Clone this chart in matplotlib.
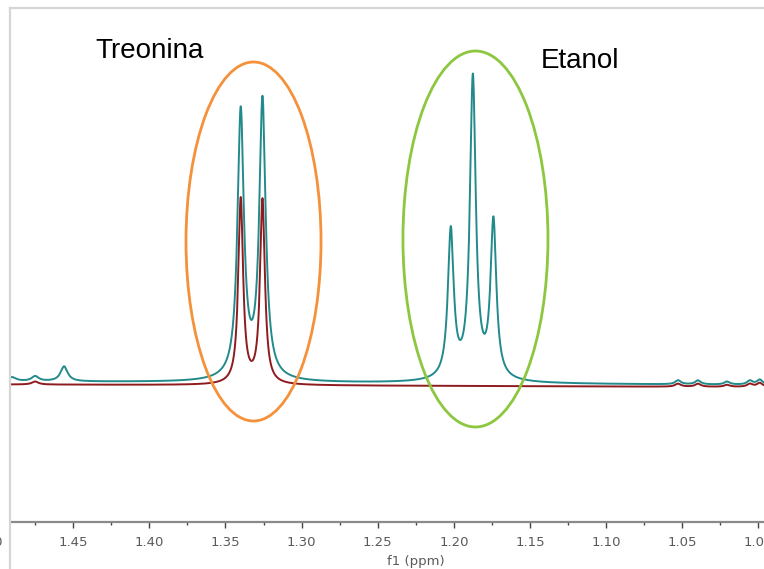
import numpy as np
import matplotlib
matplotlib.use("Agg")
import matplotlib.pyplot as plt
from matplotlib.patches import Ellipse
from matplotlib.lines import Line2D

# ---------------- data ----------------
# peak tables: chemical shift (ppm), height (intensity units), half width (ppm)
teal_centers = [1.4900, 1.4750, 1.4560, 1.3400, 1.3257, 1.3330, 1.2020, 1.1875, 1.1740,
                1.1880, 1.0527, 1.0396, 1.0205, 1.0055, 0.9990]
teal_heights = [4, 5, 15, 265, 276, 3.5, 147, 299, 156, 3, 4, 4, 3, 4, 5]
teal_widths = [0.0030, 0.0028, 0.0028, 0.00250, 0.00250, 0.0150, 0.0023, 0.0023, 0.0023,
               0.0180, 0.0022, 0.0022, 0.0022, 0.0022, 0.0022]
teal_baseline = [140.5, 137.0]   # intensity at left / right edge

red_centers = [1.4750, 1.3400, 1.3257, 1.0527, 1.0396, 1.0205, 1.0055, 0.9990]
red_heights = [3, 185, 184, 3, 3, 2, 3, 4]
red_widths = [0.0026, 0.0019, 0.0019, 0.0022, 0.0022, 0.0022, 0.0022, 0.0022]
red_baseline = [137.5, 135.0]

major_ticks = [1.45, 1.40, 1.35, 1.30, 1.25, 1.20, 1.15, 1.10, 1.05, 1.00]
tick_labels = ["1.45", "1.40", "1.35", "1.30", "1.25", "1.20", "1.15", "1.10", "1.05", "1.00"]
x_label = "f1 (ppm)"
label_treonina = "Treonina"
label_etanol = "Etanol"

# ---------------- figure ----------------
W, H = 764, 569
fig = plt.figure(figsize=(W / 100, H / 100), dpi=100)
fig.patch.set_facecolor("white")

ax_left_px, ax_bottom_px, ax_top_px = 10.7, 522, 8
ax = fig.add_axes([ax_left_px / W, (H - ax_bottom_px) / H,
                   1 - ax_left_px / W, (ax_bottom_px - ax_top_px) / H])

x_left, x_right = 1.4911, 0.99626
ppm = np.linspace(x_right - 0.002, x_left + 0.002, 8000)


def spectrum(x, centers, heights, widths, base):
    y = np.interp(x, [x_right, x_left], [base[1], base[0]])
    for c, h, w in zip(centers, heights, widths):
        y = y + h / (1 + ((x - c) / w) ** 2)
    return y


teal_y = spectrum(ppm, teal_centers, teal_heights, teal_widths, teal_baseline)
red_y = spectrum(ppm, red_centers, red_heights, red_widths, red_baseline)

ax.plot(ppm, red_y, color="#8e1c1f", lw=1.4, solid_joinstyle="round", zorder=3)
ax.plot(ppm, teal_y, color="#238a8c", lw=1.4, solid_joinstyle="round", zorder=4)

ax.set_xlim(x_left, x_right)
ax.set_ylim(0, 514)

# ellipses (annotation shapes)
ax.add_patch(Ellipse((1.3316, 280.5), 0.0887, 359, fill=False,
                     edgecolor="#f5913a", lw=2.0, zorder=5))
ax.add_patch(Ellipse((1.1858, 283.0), 0.09526, 376, fill=False,
                     edgecolor="#8dc63f", lw=2.0, zorder=5))

ax.text(1.4357, 463.7, label_treonina, fontsize=20, family="Liberation Sans",
        ha="left", va="baseline", color="black")
ax.text(1.1427, 453.7, label_etanol, fontsize=20, family="Liberation Sans",
        ha="left", va="baseline", color="black")

# axes styling
for s in ["left", "right", "top"]:
    ax.spines[s].set_visible(False)
ax.spines["bottom"].set_color("#8a8a8a")
ax.spines["bottom"].set_linewidth(1.6)
ax.set_yticks([])
ax.set_xticks(major_ticks)
ax.set_xticklabels(tick_labels)
ax.set_xticks(np.arange(1.475, 0.99, -0.05), minor=True)
ax.tick_params(axis="x", which="major", length=4.5, width=1.0, color="#444444",
               labelsize=9.5, labelcolor="#5a5a5a", pad=5.5)
ax.tick_params(axis="x", which="minor", length=2.5, width=1.0, color="#444444")
for lab in ax.get_xticklabels():
    lab.set_family("DejaVu Sans")
ax.text(1.225, -40, x_label, fontsize=9.5, color="#5a5a5a", family="DejaVu Sans",
        ha="center", va="center", clip_on=False)
ax.patch.set_alpha(0)

# partially visible label of the 1.50 tick at the cropped left edge
fig.text(3.5 / W, (H - 542) / H, "1.50", fontsize=9.5, color="#5a5a5a",
         family="DejaVu Sans", ha="right", va="center")

# window border lines (figure pixel coords)
fig.add_artist(Line2D([10.2 / W, 1.0], [(H - 8) / H, (H - 8) / H],
                      transform=fig.transFigure, color="#d6d6d6", lw=1.6))
fig.add_artist(Line2D([10.2 / W, 10.2 / W], [0, (H - 8) / H],
                      transform=fig.transFigure, color="#d6d6d6", lw=1.6))

fig.savefig("out.png", dpi=100)
